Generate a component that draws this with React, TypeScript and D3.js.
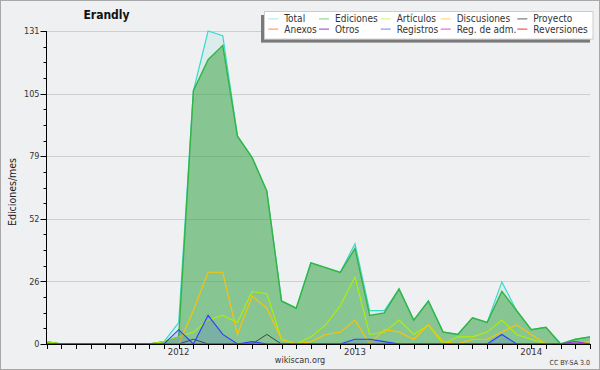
import React from 'react';
import * as d3 from 'd3';

const months = [
  '2011-04','2011-05','2011-06','2011-07','2011-08','2011-09','2011-10','2011-11','2011-12',
  '2012-01','2012-02','2012-03','2012-04','2012-05','2012-06','2012-07','2012-08','2012-09','2012-10','2012-11','2012-12',
  '2013-01','2013-02','2013-03','2013-04','2013-05','2013-06','2013-07','2013-08','2013-09','2013-10','2013-11','2013-12',
  '2014-01','2014-02','2014-03','2014-04','2014-05'
];
const yearTicks = ['2012-01', '2013-01', '2014-01'];
const yearLabels = ['2012', '2013', '2014'];
const yTickLabels = [0, 26, 52, 79, 105, 131];

const total =      [1,0,0,0,0,0,0,0,1,9,106,131,129,87,78,64,18,15,34,32,30,42,14,14,23,10,18,5,4,11,9,26,14,6,7,0,2,3];
const ediciones =  [1,0,0,0,0,0,0,0,1,3,106,119,125,87,78,64,18,15,34,32,30,40,12,13,23,10,18,5,4,11,9,22,14,6,7,0,2,3];
const articulos =  [1,0,0,0,0,0,0,0,1,3,5,10,12,9,22,21,2,0,3,8,16,28,4,5,10,4,8,0,3,3,5,10,4,2,0,0,0,0];
const discusiones =[0,0,0,0,0,0,0,0,0,0,14,30,30,4,20,15,2,0,1,4,5,10,0,6,5,2,8,1,0,2,2,5,8,4,0,0,0,1];
const proyecto =   [0,0,0,0,0,0,0,0,0,0,2,0,0,0,0,4,0,0,0,0,0,0,0,0,0,0,0,0,0,0,0,0,0,0,0,0,0,0];
const anexos =     [0,0,0,0,0,0,0,0,0,0,0,0,0,0,0,0,0,0,0,0,0,0,0,0,0,0,0,0,0,0,0,0,0,0,0,0,0,0];
const otros =      [0,0,0,0,0,0,0,0,0,0,0,0,0,0,0,0,0,0,0,0,0,0,0,0,0,0,0,0,0,0,0,0,0,0,0,0,1,0];
const registros =  [0,0,0,0,0,0,0,0,0,6,0,12,4,0,1,0,0,0,0,0,0,2,2,1,0,0,0,0,0,0,0,4,0,0,0,0,0,0];
const regAdm =     [0,0,0,0,0,0,0,0,0,0,0,0,0,0,0,0,0,0,0,0,0,0,0,0,0,0,0,0,0,0,0,0,0,0,0,0,0,0];
const reversiones =[0,0,0,0,0,0,0,0,0,0,0,0,0,0,0,0,0,0,0,0,0,0,0,0,0,0,0,0,0,0,0,0,0,0,0,0,0,0];

const legendNames = ['Total','Ediciones','Artículos','Discusiones','Proyecto','Anexos','Otros','Registros','Reg. de adm.','Reversiones'];
const legendColors = ['#a6e9e1','#7fcc85','#d2f07a','#ffd36a','#606060','#ff8a50','#8a3fd0','#7a7cf2','#d455d4','#ea3434'];

const FONT = '"DejaVu Sans Condensed", "DejaVu Sans", sans-serif';

export default function App() {
  const W = 600, H = 370;
  const left = 46.5, right = 590, top = 31, bottom = 344;
  const x = d3.scalePoint<string>().domain(months).range([left, right]);
  const y = d3.scaleLinear().domain([0, 131]).range([bottom, top]);

  const line = d3.line<number>().x((_, i) => x(months[i]) as number).y(d => y(d));
  const area = d3.area<number>().x((_, i) => x(months[i]) as number).y0(y(0)).y1(d => y(d));

  const minorTicks = d3.range(0, 21).map(i => (131 * i) / 20);
  const majorTicks = d3.range(0, 6).map(i => (131 * i) / 5);

  const lineSeries: { data: number[]; color: string; fill?: string; w: number }[] = [
    { data: reversiones, color: '#ea3434', w: 1 },
    { data: regAdm, color: '#d455d4', w: 1 },
    { data: anexos, color: '#ff8a50', w: 1 },
    { data: articulos, color: '#aef000', w: 1.1 },
    { data: discusiones, color: '#ffc200', w: 1.1 },
    { data: proyecto, color: '#444444', w: 1 },
    { data: otros, color: '#9a30d8', w: 1.2 },
    { data: registros, color: '#2f3cff', fill: 'rgba(60,70,255,0.16)', w: 1.1 },
  ];

  const legendCols = [284.3, 335, 396.7, 456.7, 533.3];
  const legendRows = [22.4, 32.6];

  return (
    <svg width={W} height={H} style={{ position: 'absolute', left: 0, top: 0, display: 'block' }} fontFamily={FONT}>
      <rect x={0.5} y={0.5} width={W - 1} height={H - 1} fill="#eff0f2" stroke="#a8a8a8" />
      {/* grid */}
      {majorTicks.slice(1).map((t, i) => (
        <line key={'g' + i} x1={left} x2={right} y1={Math.round(y(t)) + 0.5} y2={Math.round(y(t)) + 0.5} stroke="#cfcfcf" strokeWidth={1} />
      ))}
      {/* total area */}
      <path d={area(total) || ''} fill="rgba(64,224,200,0.12)" />
      <path d={line(total) || ''} fill="none" stroke="#3cd9c9" strokeWidth={1.2} />
      {/* ediciones area */}
      <path d={area(ediciones) || ''} fill="rgba(52,160,56,0.5)" />
      <path d={line(ediciones) || ''} fill="none" stroke="#33b544" strokeWidth={1.4} />
      {lineSeries.map((s, i) => (
        <g key={'s' + i}>
          {s.fill && <path d={area(s.data) || ''} fill={s.fill} />}
          <path d={line(s.data) || ''} fill="none" stroke={s.color} strokeWidth={s.w} />
        </g>
      ))}
      {/* axes */}
      <line x1={left} x2={left} y1={top} y2={bottom} stroke="#000" />
      <line x1={left} x2={right} y1={bottom + 0.5} y2={bottom + 0.5} stroke="#000" />
      {minorTicks.map((t, i) => (
        <line key={'mt' + i} x1={left - 3} x2={left} y1={Math.round(y(t)) + 0.5} y2={Math.round(y(t)) + 0.5} stroke="#000" />
      ))}
      {majorTicks.map((t, i) => (
        <g key={'yt' + i}>
          <line x1={left - 6} x2={left} y1={Math.round(y(t)) + 0.5} y2={Math.round(y(t)) + 0.5} stroke="#000" />
          <text x={left - 7} y={y(t) + 3.2} textAnchor="end" fontSize={9} fill="#333">{yTickLabels[i]}</text>
        </g>
      ))}
      {months.map((m, i) => (
        <line key={'xt' + i} x1={Math.round(x(m) as number) + 0.5} x2={Math.round(x(m) as number) + 0.5} y1={bottom} y2={bottom + 5} stroke="#000" />
      ))}
      {yearTicks.map((m, i) => (
        <text key={'yl' + i} x={x(m) as number} y={354.5} textAnchor="middle" fontSize={9.5} fill="#333">{yearLabels[i]}</text>
      ))}
      {/* y label */}
      <text transform={`translate(16,192) rotate(-90)`} textAnchor="middle" fontSize={10.5} fill="#222">Ediciones/mes</text>
      {/* title */}
      <text x={106.5} y={18.5} textAnchor="middle" fontSize={12} fontWeight="bold" fill="#111">Erandly</text>
      {/* footer */}
      <text x={300} y={363} textAnchor="middle" fontSize={9} fill="#333">wikiscan.org</text>
      <text x={590} y={365} textAnchor="end" fontSize={7} fill="#333">CC BY-SA 3.0</text>
      {/* legend */}
      <rect x={261} y={15} width={329} height={27.6} fill="#7a7a7a" />
      <rect x={264.5} y={11.5} width={328.5} height={27.6} fill="#fff" stroke="#cccccc" />
      {legendNames.map((n, i) => {
        const cx = legendCols[i % 5];
        const cy = legendRows[Math.floor(i / 5)];
        return (
          <g key={'lg' + i}>
            <line x1={cx - 16} x2={cx - 6} y1={cy - 3.5} y2={cy - 3.5} stroke={legendColors[i]} strokeWidth={1} />
            <text x={cx} y={cy} fontSize={10} fill="#333">{n}</text>
          </g>
        );
      })}
    </svg>
  );
}
